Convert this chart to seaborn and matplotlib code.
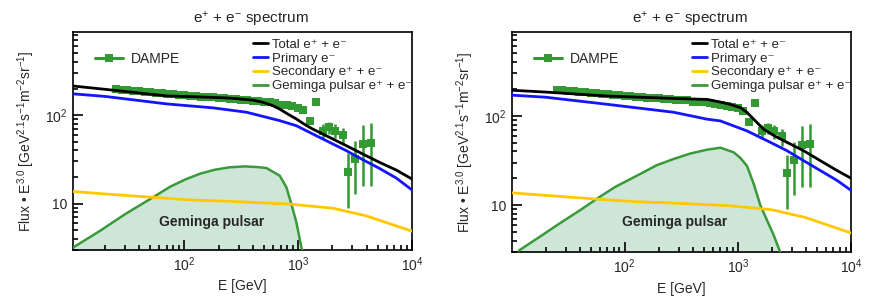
import matplotlib
matplotlib.use("Agg")
import matplotlib.pyplot as plt
from matplotlib.lines import Line2D
from matplotlib.ticker import NullFormatter, LogLocator
import seaborn as sns

# DAMPE e+ + e- points (E in GeV, flux * E^3)
dampe_e = [25.1, 28.2, 31.6, 35.5, 39.8, 44.7, 50.1, 56.2, 63.1, 70.8, 79.4, 89.1,
           100, 112, 126, 141, 158, 178, 200, 224, 251, 282, 316, 355, 398, 447,
           501, 562, 631, 708, 794, 891, 1000, 1100, 1260, 1420,
           1650, 1860, 2090, 2470, 2740, 3130, 3700, 4330]
dampe_f = [196, 193, 190, 188, 186, 184, 181, 179, 177, 175, 173, 170,
           168, 166, 163, 162, 160, 159, 157, 155, 154, 152, 150, 149, 145, 144,
           142, 140, 136, 132, 129, 126, 122, 114, 85, 140,
           67, 73, 67, 59, 23, 32, 47, 49]
dampe_err = [2, 2, 2, 2, 2, 2, 2, 2, 2, 2, 2, 2,
             2, 2, 2, 2, 2, 2, 2, 2, 2, 2, 2, 2, 2, 2,
             3, 3, 3, 3, 3, 3, 4, 4, 5, 6,
             12, 11, 12, 13, 14, 19, 31, 33]

# secondary e+ + e- (same in both panels)
sec_e = [10, 20, 53, 118, 266, 842, 2010, 3960, 6000, 10000]
sec_f = [13.8, 12.9, 11.8, 11.0, 10.6, 9.9, 8.9, 7.3, 6.1, 4.9]

# left panel
left_total_e = [10, 20, 70, 150, 251, 400, 488, 600, 689, 800, 964, 1150, 1340,
                1890, 2650, 3680, 5190, 7270, 10000]
left_total_f = [215, 196, 165, 160, 156, 148, 140, 128, 117, 104, 90.6, 78, 69.8,
                56.1, 45.2, 36.5, 29.3, 24.0, 19.0]
left_prim_e = [10, 20, 70, 178, 351, 689, 964, 1340, 1890, 2650, 3680, 5190, 7270, 10000]
left_prim_f = [175, 163, 134, 121, 108, 86.7, 76, 61.4, 49.3, 39.7, 31.5, 25.0, 19.5, 14.3]
left_gem_e = [10.56, 18.2, 30.1, 52.9, 74.6, 101, 137, 185, 251, 340, 441, 526,
              689, 788, 871, 964, 1067, 1117]
left_gem_f = [3.21, 4.95, 7.61, 11.8, 15.5, 18.7, 21.8, 24.2, 25.8, 26.4, 25.9, 25.3,
              20.7, 15.3, 9.93, 6.15, 3.21, 2.6]

# right panel
right_total_e = [10, 20, 70, 271, 535, 700, 850, 1052, 1200, 1380, 1690, 2100,
                 2720, 3810, 5350, 7520, 10000]
right_total_f = [194, 185, 167, 157, 153, 143, 135, 124, 110, 92, 71, 60,
                 50.6, 40.8, 31.6, 24.5, 20.1]
right_prim_e = [10, 20, 70, 270, 535, 700, 1205, 1940, 2720, 3810, 5350, 7520, 10000]
right_prim_f = [171, 162, 135, 110, 92, 88, 68, 50.6, 40.8, 31.6, 24.5, 19.0, 14.7]
right_gem_e = [11.6, 18.0, 27.0, 40.6, 57.1, 82.8, 138, 191, 271, 381, 535, 700,
               918, 1052, 1205, 1380, 1581, 1811, 2072, 2340, 2472]
right_gem_f = [3.11, 4.49, 6.34, 8.85, 11.9, 16.1, 22.5, 28.0, 33.0, 38.0, 41.9, 44.1,
               39.2, 33.9, 27.6, 17.4, 10.0, 6.8, 4.64, 3.11, 2.56]

legend_labels = ['Total e\u207a + e\u207b', 'Primary e\u207b',
                 'Secondary e\u207a + e\u207b', 'Geminga pulsar e\u207a + e\u207b']

GREEN = '#3a9a3a'
FILL = '#cde6d8'
YELLOW = '#ffc800'
BLUE = '#1414ff'

sns.set_theme(style='ticks')
plt.rcParams['font.family'] = ['Liberation Sans', 'DejaVu Sans']
plt.rcParams['mathtext.fontset'] = 'custom'
plt.rcParams['mathtext.rm'] = 'Liberation Sans'
plt.rcParams['mathtext.it'] = 'Liberation Sans:italic'
plt.rcParams['mathtext.bf'] = 'Liberation Sans:bold'
plt.rcParams['axes.axisbelow'] = False


def draw_panel(ax, total_e, total_f, prim_e, prim_f, gem_e, gem_f, xmin, text_xy):
    ax.fill_between(gem_e, gem_f, 0.1, color=FILL, lw=0, zorder=1)
    sns.lineplot(x=gem_e, y=gem_f, ax=ax, color=GREEN, lw=1.8, sort=False, zorder=3)
    sns.lineplot(x=sec_e, y=sec_f, ax=ax, color=YELLOW, lw=2, sort=False, zorder=4)
    ax.errorbar(dampe_e, dampe_f, yerr=dampe_err, fmt='s', color='#339933',
                ms=5.2, mew=0, elinewidth=1.8, capsize=2.2, capthick=1.8, zorder=5)
    sns.lineplot(x=prim_e, y=prim_f, ax=ax, color=BLUE, lw=2, sort=False, zorder=6)
    sns.lineplot(x=total_e, y=total_f, ax=ax, color='black', lw=2, sort=False, zorder=7)

    ax.set_xscale('log')
    ax.set_yscale('log')
    ax.set_xlim(xmin, 1e4)
    ax.set_ylim(3, 870)
    ax.set_xticks([100, 1000, 10000])
    ax.set_xticklabels(['$10^2$', '$10^3$', '$10^4$'])
    ax.set_yticks([10, 100])
    ax.set_yticklabels(['10', '$10^2$'])
    ax.xaxis.set_minor_locator(LogLocator(base=10, subs=range(2, 10)))
    ax.yaxis.set_minor_locator(LogLocator(base=10, subs=range(2, 10)))
    ax.xaxis.set_minor_formatter(NullFormatter())
    ax.yaxis.set_minor_formatter(NullFormatter())
    ax.tick_params(which='both', direction='in', top=False, right=False,
                   bottom=True, left=True, color='black', labelsize=10, pad=4)
    ax.tick_params(which='major', length=7, width=1.2)
    ax.tick_params(which='minor', length=3.5, width=1.2)
    for s in ax.spines.values():
        s.set_visible(True)
        s.set_color('black')
        s.set_linewidth(1.2)

    ax.set_title('e$^{+}$ + e$^{-}$ spectrum', fontsize=11, x=0.525, pad=6)
    ax.set_xlabel('E [GeV]', fontsize=10)
    ax.set_ylabel('Flux \u2022 E$^{3.0}$ [GeV$^{2.1}$s$^{-1}$m$^{-2}$sr$^{-1}$]', fontsize=10)
    ax.xaxis.set_label_coords(0.5, -0.135)
    ax.yaxis.set_label_coords(-0.106, 0.5)

    ax.text(text_xy[0], text_xy[1], 'Geminga pulsar', transform=ax.transAxes,
            ha='center', va='center', fontsize=10, fontweight='bold')

    h_dampe = Line2D([], [], color='#339933', marker='s', ms=5.2, mew=0, lw=2.2)
    leg1 = ax.legend([h_dampe], ['DAMPE'], loc='upper left',
                     bbox_to_anchor=(0.065, 0.91), frameon=False, fontsize=10,
                     handlelength=2.0, handletextpad=0.55, borderpad=0,
                     borderaxespad=0)
    ax.add_artist(leg1)
    handles = [Line2D([], [], color='black', lw=2),
               Line2D([], [], color=BLUE, lw=2),
               Line2D([], [], color=YELLOW, lw=2),
               Line2D([], [], color=GREEN, lw=2)]
    ax.legend(handles, legend_labels, loc='upper left', bbox_to_anchor=(0.53, 0.97),
              frameon=False, fontsize=9.5, handlelength=1.15, handletextpad=0.3,
              labelspacing=0.12, borderpad=0, borderaxespad=0)


fig = plt.figure(figsize=(8.8, 3.0), dpi=100)
ax1 = fig.add_axes([73 / 880, 50 / 300, 339 / 880, 218 / 300])
ax2 = fig.add_axes([512 / 880, 48 / 300, 339 / 880, 220 / 300])

draw_panel(ax1, left_total_e, left_total_f, left_prim_e, left_prim_f,
           left_gem_e, left_gem_f, 10.5, (0.41, 0.128))
draw_panel(ax2, right_total_e, right_total_f, right_prim_e, right_prim_f,
           right_gem_e, right_gem_f, 10.1, (0.479, 0.136))

fig.savefig('out.png', dpi=100)
